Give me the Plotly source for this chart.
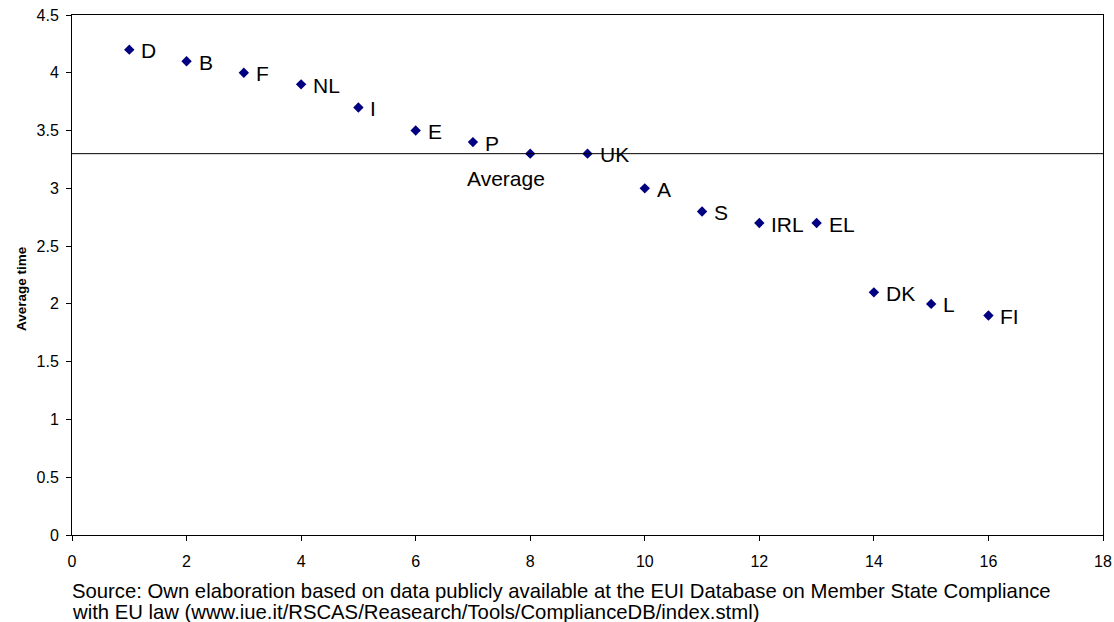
import plotly.graph_objects as go

rank = list(range(1, 17))
avg_time = [4.2, 4.1, 4.0, 3.9, 3.7, 3.5, 3.4, 3.3, 3.3, 3.0, 2.8, 2.7, 2.7, 2.1, 2.0, 1.9]
labels = ["D", "B", "F", "NL", "I", "E", "P", "Average", "UK", "A", "S", "IRL", "EL", "DK", "L", "FI"]
average = 3.3

x_ticks = list(range(0, 19, 2))
y_ticks = [0, 0.5, 1, 1.5, 2, 2.5, 3, 3.5, 4, 4.5]

source_lines = ["Source: Own elaboration based on data publicly available at the EUI Database on Member State Compliance",
                "with EU law (www.iue.it/RSCAS/Reasearch/Tools/ComplianceDB/index.stml)"]

fig = go.Figure()

# average line across the whole plot
fig.add_shape(type="line", xref="paper", x0=0, x1=1, yref="y", y0=average, y1=average,
              line=dict(color="black", width=1))

fig.add_trace(go.Scatter(x=rank, y=avg_time, mode="markers",
                         marker=dict(symbol="diamond", size=8, color="#000080"),
                         showlegend=False, cliponaxis=False, hoverinfo="skip"))

# point labels
for xv, yv, lab in zip(rank, avg_time, labels):
    if lab == "Average":
        fig.add_annotation(x=xv, y=yv, text=lab, showarrow=False, xanchor="center", yanchor="top",
                           xshift=-24, yshift=-11, font=dict(family="Arial", size=21, color="black"))
    else:
        fig.add_annotation(x=xv, y=yv, text=lab, showarrow=False, xanchor="left", yanchor="middle",
                           xshift=10, yshift=-1, font=dict(family="Arial", size=21, color="black"))

# source note, one annotation per line to keep the tight spacing
for i, line in enumerate(source_lines):
    fig.add_annotation(xref="paper", yref="paper", x=0, y=0, text=line, showarrow=False,
                       xanchor="left", yanchor="middle", align="left", xshift=-2, yshift=-56 - 21 * i,
                       font=dict(family="Arial", size=20.3, color="black"))

# y axis title, placed by hand (sits a bit below the plot centre in the original)
fig.add_annotation(xref="paper", yref="paper", x=0, y=0.473, text="<b>Average time</b>", showarrow=False,
                   textangle=-90, xanchor="center", yanchor="middle", xshift=-51,
                   font=dict(family="Arial", size=13.5, color="black"))

fig.update_xaxes(range=[0, 18], tickvals=x_ticks, ticks="outside", ticklen=5, tickcolor="black",
                 showgrid=False, zeroline=False, showline=True, linecolor="black", linewidth=1,
                 mirror=True, automargin=False, ticklabelstandoff=7,
                 tickfont=dict(family="Arial", size=16, color="black"))
fig.update_yaxes(range=[0, 4.5], tickvals=y_ticks, ticks="outside", ticklen=5, tickcolor="black",
                 showgrid=False, zeroline=False, showline=True, linecolor="black", linewidth=1,
                 mirror=True, automargin=False, ticklabelstandoff=4,
                 tickfont=dict(family="Arial", size=16, color="black"))

fig.update_layout(width=1114, height=622, margin=dict(l=72, r=11, t=15, b=87),
                  plot_bgcolor="white", paper_bgcolor="white",
                  font=dict(family="Arial"))

# drop the default page margin so the figure sits at the top-left corner
fig.write_html("out.html", config={"displayModeBar": False},
               post_script="document.body.style.margin='0';")
